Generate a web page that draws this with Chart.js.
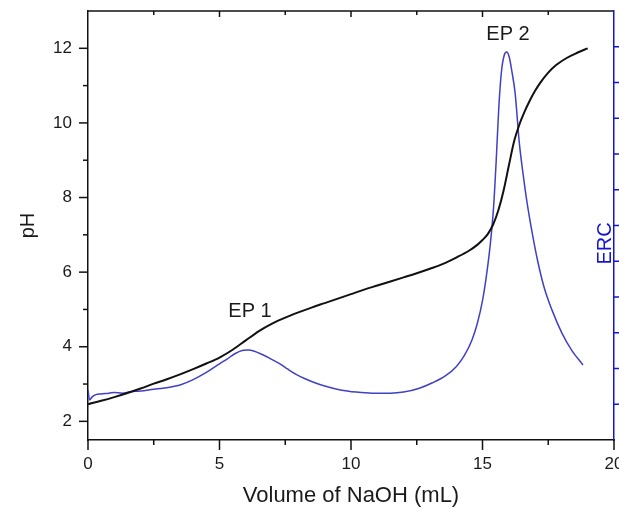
<!DOCTYPE html>
<html>
<head>
<meta charset="utf-8">
<script src="https://cdn.jsdelivr.net/npm/chart.js@4.4.1/dist/chart.umd.min.js"></script>
<style>
  html, body { margin: 0; padding: 0; background: #fff; }
  canvas { display: block; }
</style>
</head>
<body>
<canvas id="chart" width="619" height="509"></canvas>
<script>
// titration curve (pH vs volume of NaOH)
var phVolume = [0, 0.5, 1, 1.5, 2, 2.5, 3, 3.5, 4, 4.5, 5, 5.5, 6, 6.5, 7, 7.5, 8, 8.5, 9, 9.5,
  10, 10.5, 11, 11.5, 12, 12.5, 13, 13.5, 14, 14.5, 14.8, 15.0, 15.2, 15.4, 15.6, 15.8, 16.0, 16.2,
  16.4, 16.6, 16.8, 17.0, 17.2, 17.5, 17.8, 18.2, 18.6, 19.0];
var phValues = [2.46, 2.55, 2.65, 2.76, 2.88, 3.01, 3.13, 3.26, 3.40, 3.55, 3.71, 3.92, 4.17, 4.42,
  4.62, 4.78, 4.92, 5.05, 5.17, 5.29, 5.41, 5.53, 5.64, 5.75, 5.86, 5.97, 6.09, 6.22, 6.39, 6.58,
  6.73, 6.86, 7.02, 7.27, 7.65, 8.18, 8.85, 9.5, 9.95, 10.3, 10.6, 10.86, 11.08, 11.35, 11.55,
  11.74, 11.88, 12.0];

// ERC curve (right axis)
var ercVolume = [0, 0.06, 0.15, 0.3, 0.5, 0.8, 1.0, 1.3, 1.6, 2.0, 2.5, 2.85, 3.2, 3.5, 4.0, 4.5,
  5.0, 5.3, 5.6, 5.9, 6.1, 6.3, 6.6, 6.9, 7.3, 7.6, 7.95, 8.3, 8.6, 9.0, 9.6, 10.2, 10.8, 11.5,
  12.0, 12.6, 13.1, 13.6, 14.0, 14.3, 14.6, 14.8, 15.0, 15.15, 15.3, 15.42, 15.52, 15.62, 15.72,
  15.82, 15.92, 16.02, 16.12, 16.24, 16.4, 16.55, 16.68, 16.9, 17.1, 17.35, 17.64, 18.02, 18.4, 18.82];
var ercValues = [1.40, 1.12, 1.20, 1.27, 1.29, 1.31, 1.33, 1.31, 1.35, 1.37, 1.42, 1.45, 1.49, 1.54,
  1.69, 1.89, 2.13, 2.27, 2.42, 2.51, 2.52, 2.49, 2.40, 2.29, 2.13, 1.98, 1.82, 1.70, 1.61, 1.51,
  1.40, 1.34, 1.31, 1.31, 1.34, 1.45, 1.60, 1.80, 2.05, 2.35, 2.80, 3.25, 3.9, 4.6, 5.5, 6.5, 7.8,
  9.3, 10.3, 10.75, 10.85, 10.7, 10.3, 9.71, 8.31, 7.4, 6.71, 5.75, 5.0, 4.25, 3.64, 2.99, 2.5, 2.10];

// labels for the two equivalence points [volume, pH]
var epLabels = ['EP 1', 'EP 2'];
var epPositions = [[6.16, 4.94], [15.97, 12.38]];

var FONT = "'Liberation Sans', Arial, Helvetica, sans-serif";
var BLUE_AXIS = '#1414d2';
var BLUE_LINE = '#4040c4';
var INK = '#1a1a1a';

function toPoints(xs, ys) {
  var pts = [];
  for (var i = 0; i < xs.length; i++) {
    pts.push({x: xs[i], y: ys[i]});
  }
  return pts;
}

function line(ctx, x1, y1, x2, y2) {
  ctx.beginPath();
  ctx.moveTo(x1, y1);
  ctx.lineTo(x2, y2);
  ctx.stroke();
}

// tick marks (major + minor), top frame line, annotations
var frameDecor = {
  id: 'frameDecor',
  afterDraw: function(chart) {
    var ctx = chart.ctx;
    var a = chart.chartArea;
    var sx = chart.scales.x, sy = chart.scales.y, sy2 = chart.scales.y2;
    ctx.save();
    ctx.lineCap = 'butt';
    ctx.strokeStyle = '#111';
    ctx.lineWidth = 1.5;

    line(ctx, a.left, a.top, a.right - 1, a.top);

    sx.ticks.forEach(function(t) {
      var px = sx.getPixelForValue(t.value);
      line(ctx, px, a.bottom, px, a.bottom + 10);
      if (t.value > sx.min && t.value < sx.max) line(ctx, px, a.top, px, a.top + 6);
      if (t.value < sx.max) {
        var mx = sx.getPixelForValue(t.value + 2.5);
        line(ctx, mx, a.bottom, mx, a.bottom + 5);
        line(ctx, mx, a.top, mx, a.top + 4);
      }
    });

    sy.ticks.forEach(function(t) {
      if (t.value >= sy.max) return;
      var py = sy.getPixelForValue(t.value);
      var len = t.value % 2 === 0 ? 9 : 5;
      line(ctx, a.left - len, py, a.left, py);
    });

    ctx.strokeStyle = BLUE_AXIS;
    sy2.ticks.forEach(function(t) {
      if (t.value <= sy2.min || t.value >= sy2.max) return;
      var py = sy2.getPixelForValue(t.value);
      line(ctx, a.right, py, a.right + 6, py);
    });

    ctx.fillStyle = INK;
    ctx.font = '20px ' + FONT;
    ctx.textAlign = 'center';
    ctx.textBaseline = 'middle';
    for (var i = 0; i < epLabels.length; i++) {
      ctx.fillText(epLabels[i], sx.getPixelForValue(epPositions[i][0]), sy.getPixelForValue(epPositions[i][1]));
    }

    ctx.fillStyle = BLUE_AXIS;
    ctx.translate(a.right - 9, sy2.getPixelForValue(5.5));
    ctx.rotate(-Math.PI / 2);
    ctx.fillText('ERC', 0, 0);
    ctx.restore();
  }
};

function fixBox(width, height) {
  return function(scale) {
    if (width != null) scale.width = width;
    if (height != null) scale.height = height;
    scale.paddingLeft = 0;
    scale.paddingRight = 0;
    scale.paddingTop = 0;
    scale.paddingBottom = 0;
  };
}

new Chart(document.getElementById('chart'), {
  type: 'line',
  data: {
    datasets: [{
      label: 'pH',
      data: toPoints(phVolume, phValues),
      yAxisID: 'y',
      borderColor: '#111',
      borderWidth: 2,
      pointRadius: 0,
      cubicInterpolationMode: 'monotone'
    }, {
      label: 'ERC',
      data: toPoints(ercVolume, ercValues),
      yAxisID: 'y2',
      borderColor: BLUE_LINE,
      borderWidth: 1.5,
      pointRadius: 0,
      cubicInterpolationMode: 'monotone'
    }]
  },
  options: {
    responsive: false,
    animation: false,
    devicePixelRatio: 1,
    layout: {padding: {top: 11, left: 0, right: 0, bottom: 0}},
    plugins: {legend: {display: false}, tooltip: {enabled: false}},
    scales: {
      x: {
        type: 'linear',
        min: 0,
        max: 20,
        ticks: {stepSize: 5, padding: 14, autoSkip: false, maxRotation: 0, color: INK, font: {size: 17, family: FONT}},
        grid: {display: false, drawTicks: false},
        border: {display: true, color: '#111', width: 1.5},
        title: {display: true, text: 'Volume of NaOH (mL)', color: INK, font: {size: 22, family: FONT}, padding: {top: 0, bottom: 0}},
        afterFit: fixBox(null, 69)
      },
      y: {
        position: 'left',
        min: 1.5,
        max: 13,
        ticks: {
          stepSize: 1,
          includeBounds: false,
          autoSkip: false,
          padding: 16,
          color: INK,
          font: {size: 17, family: FONT},
          callback: function(v) { return v % 2 === 0 ? String(v) : ''; }
        },
        grid: {display: false, drawTicks: false},
        border: {display: true, color: '#111', width: 1.5},
        title: {display: true, text: 'pH', color: INK, font: {size: 20, family: FONT}, padding: {top: 16, bottom: 0}},
        afterFit: fixBox(88, null)
      },
      y2: {
        position: 'right',
        min: 0,
        max: 12,
        ticks: {stepSize: 1, display: false},
        grid: {display: false, drawTicks: false},
        border: {display: true, color: BLUE_AXIS, width: 1.5},
        afterFit: fixBox(5, null)
      }
    }
  },
  plugins: [frameDecor]
});
</script>
</body>
</html>
